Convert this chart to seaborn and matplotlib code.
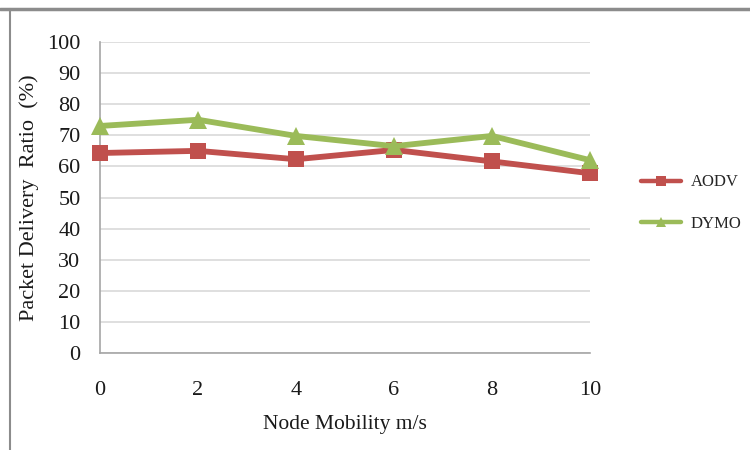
import matplotlib
matplotlib.use("Agg")
import matplotlib.pyplot as plt
from matplotlib.lines import Line2D
import seaborn as sns
import pandas as pd

mobility = [0, 2, 4, 6, 8, 10]
aodv = [64.3, 65.0, 62.3, 65.3, 61.6, 57.8]
dymo = [73.0, 75.0, 69.8, 66.5, 69.8, 62.0]
series_names = ["AODV", "DYMO"]
y_ticks = [0, 10, 20, 30, 40, 50, 60, 70, 80, 90, 100]

df = pd.DataFrame({
    "mobility": mobility * 2,
    "pdr": aodv + dymo,
    "protocol": [series_names[0]] * len(aodv) + [series_names[1]] * len(dymo),
})

sns.set_theme(style="white")
plt.rcParams["font.family"] = ["Liberation Serif", "DejaVu Serif"]

fig = plt.figure(figsize=(7.5, 4.5), dpi=100)
ax = fig.add_axes([100 / 750, 1 - 353 / 450, 490 / 750, 311 / 450])

palette = {"AODV": "#C0504D", "DYMO": "#9BBB59"}
markers = {"AODV": "s", "DYMO": "^"}
grid_col = "#BFBFBF"

for name in series_names:
    sub = df[df["protocol"] == name]
    sns.lineplot(data=sub, x="mobility", y="pdr", ax=ax, color=palette[name],
                 marker=markers[name], markersize=12 if name == "AODV" else 12.5,
                 markeredgewidth=0, linewidth=4.2, clip_on=False, zorder=3,
                 label=name, legend=False)

ax.set_xlim(0, 10)
ax.set_ylim(0, 100)
ax.set_xticks(mobility)
ax.set_yticks(y_ticks)
ax.tick_params(axis="both", labelsize=16, colors="#1a1a1a")
ax.tick_params(axis="y", direction="out", length=8, width=1, color=grid_col, pad=6)
ax.tick_params(axis="x", direction="out", length=5, width=1, color=grid_col, pad=15)
ax.yaxis.grid(True, color="#D9D9D9", linewidth=1.2)
ax.xaxis.grid(False)
for s in ["top", "right"]:
    ax.spines[s].set_visible(False)
for s in ["left", "bottom"]:
    ax.spines[s].set_color("#A6A6A6")
    ax.spines[s].set_linewidth(1.2)

ax.set_xlabel("Node Mobility m/s", fontsize=15.5, color="#1a1a1a", labelpad=11)
ax.set_ylabel("Packet Delivery  Ratio  (%)", fontsize=16, color="#1a1a1a", labelpad=6)

handles = [Line2D([0], [0], color=palette[n], marker=markers[n], markersize=7,
                  markeredgewidth=0, linewidth=3.2) for n in series_names]
fig.legend(handles, series_names, loc="center left",
           bbox_to_anchor=(641 / 750, 1 - 203 / 450), frameon=False,
           fontsize=12, handlelength=2.4, labelspacing=1.5, handletextpad=0.6,
           borderaxespad=0, borderpad=0)

# frame edges along the top and left of the canvas
fig.add_artist(Line2D([0, 1], [1 - 9 / 450] * 2, color="#8C8C8C", linewidth=2.5,
                      transform=fig.transFigure))
fig.add_artist(Line2D([10 / 750] * 2, [0, 1 - 9 / 450], color="#8C8C8C", linewidth=1.5,
                      transform=fig.transFigure))

fig.savefig("out.png", dpi=100)
